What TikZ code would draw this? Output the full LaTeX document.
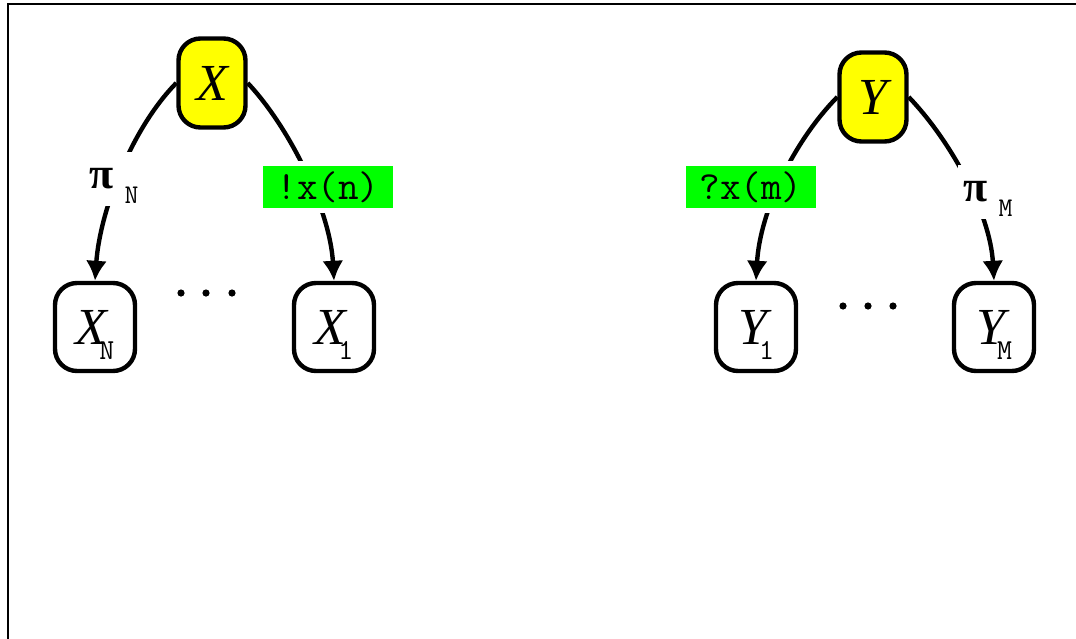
\documentclass[tikz,border=0pt]{standalone}
\usepackage{fontspec}
\setmainfont{Liberation Serif}
\usetikzlibrary{arrows.meta}
\definecolor{procyellow}{RGB}{255,255,0}
\definecolor{actgreen}{RGB}{0,255,0}

% process name with a typewriter index set low and tucked under it
\newcommand{\procsub}[2]{#1\kern-8pt\smash{\raisebox{-15pt}{\fontsize{29}{29}\selectfont\upshape\ttfamily #2}}}
\newcommand{\silentsub}[1]{{\fontsize{44}{44}\selectfont\bfseries π}\hspace{11pt}\smash{\raisebox{-15pt}{\fontsize{27}{27}\selectfont\ttfamily #1}}}

\begin{document}
\begin{tikzpicture}[x=1pt,y=-1pt,
  proc/.style={draw,line width=4.4pt,rounded corners=22pt,inner sep=0pt,
    minimum width=80pt,minimum height=88pt,
    font=\fontsize{52}{52}\selectfont\itshape},
  root/.style={proc,fill=procyellow,minimum width=67pt,minimum height=89pt},
  child/.style={proc,fill=white},
  link/.style={line width=4.4pt,-{Latex[length=20pt,width=21pt]}},
  act/.style={fill=actgreen,inner sep=0pt,minimum width=130pt,minimum height=42pt,
    preaction={draw=white,line width=10pt},
    font=\fontsize{40}{40}\selectfont\ttfamily},
  silent/.style={fill=white,inner sep=0pt,minimum width=60pt,minimum height=54pt,
    font=\fontsize{36}{36}\selectfont},
  dot/.style={fill=black},
]
\useasboundingbox (0,0) rectangle (1076,638);
\begin{scope}
  \clip (0,0) rectangle (1076,638);
  \draw[line width=2.8pt] (8,4) rectangle (1100,660);
\end{scope}

% left family
\node[root]  (X)  at (212,83)  {X};
\node[child] (XN) at (95,327)  {\procsub{X}{N}};
\node[child] (X1) at (334,327) {\procsub{X}{1}};

\draw[link] (X.west) .. controls (132,128) and (100,210) .. (XN.north);
\draw[link] (X.east) .. controls (290,128) and (330,210) .. (X1.north);

\node[silent] (piN) at (114,179) {\silentsub{N}};
\node[act]    (snd) at (328,187) {!x(n)};

\fill[dot] (181,293) circle (3.6) (206,293) circle (3.6) (232,293) circle (3.6);

% right family
\node[root]  (Y)  at (873,97)  {Y};
\node[child] (Y1) at (756,327) {\procsub{Y}{1}};
\node[child] (YM) at (994,327) {\procsub{Y}{M}};

\draw[link] (Y.west) .. controls (795,140) and (760,210) .. (Y1.north);
\draw[link] (Y.east) .. controls (950,140) and (990,212) .. (YM.north);

\node[act]    (rcv) at (751,187) {?x(m)};
\node[silent] (piM) at (988,192) {\silentsub{M}};

\fill[dot] (843,306) circle (3.6) (868,306) circle (3.6) (893,306) circle (3.6);
\end{tikzpicture}
\end{document}
